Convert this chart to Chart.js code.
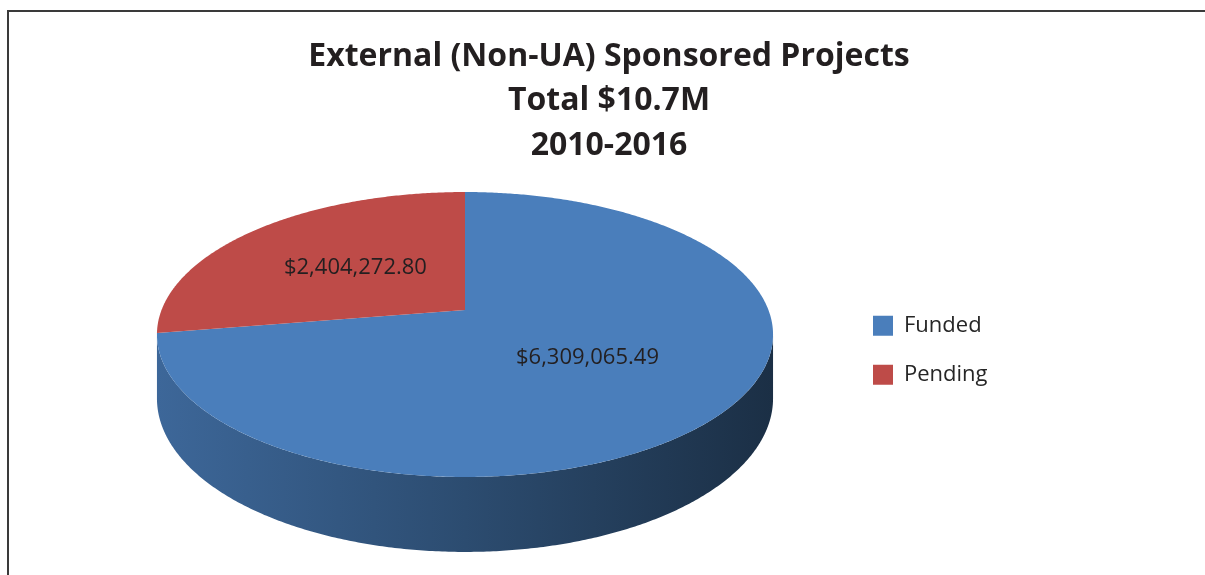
<!DOCTYPE html>
<html>
<head>
<meta charset="utf-8">
<script src="https://cdn.jsdelivr.net/npm/chart.js@4"></script>
<style>
  html, body { margin: 0; padding: 0; background: #fff; }
  body { width: 1205px; height: 575px; position: relative; overflow: hidden; }
  #frame { position: absolute; left: 7px; top: 10px; right: 0; bottom: -10px;
           border-top: 2px solid #3a3a3a; border-left: 2px solid #3a3a3a; }
  #wrap { position: absolute; left: 84px; top: 0; width: 1050px; height: 575px; }
</style>
</head>
<body>
<div id="frame"></div>
<div id="wrap"><canvas id="pieChart"></canvas></div>
<script>
'use strict';

// data
const categories = ['Funded', 'Pending'];
const amounts = [6309065.49, 2404272.80];
const titleLines = ['External (Non-UA) Sponsored Projects', 'Total $10.7M', '2010-2016'];

// look of the 3d pie (relative to the radius chart.js gives us)
const sliceColors = ['#4a7ebb', '#be4b48'];
const RX = 1.736;     // horizontal stretch
const RY = 0.791;     // vertical squash
const PERSP = 0.172;  // how much nearer edge grows
const DEPTH = 0.355;  // height of the side wall
const LIFT = 0.23;    // top face centre above chart area centre
const LABEL_K = 0.5;  // where the value labels sit on the radius
const LEGEND_WIDTH = 288;

const money = v => '$' + v.toLocaleString('en-US', {minimumFractionDigits: 2, maximumFractionDigits: 2});

function shade(hex, k) {
  const n = parseInt(hex.slice(1), 16);
  const c = [(n >> 16) & 255, (n >> 8) & 255, n & 255].map(v => Math.round(v * k));
  return 'rgb(' + c.join(',') + ')';
}

// projects a point of the flat pie (angle, fraction of radius) onto the tilted one
function projector(arc) {
  const r = arc.outerRadius;
  const cx = arc.x, cy = arc.y - r * LIFT;
  return (a, k, drop) => {
    const x = Math.cos(a) * k, z = Math.sin(a) * k;
    const s = 1 / (1 - PERSP * z);
    return [cx + r * RX * x * s, cy + (r * RY * z + drop) * s];
  };
}

const wideLegend = {
  id: 'wideLegend',
  beforeUpdate(chart) {
    const lg = chart.legend;
    if (!lg || lg._wide) return;
    const fit = lg.fit;
    lg.fit = function () { fit.call(this); this.width = LEGEND_WIDTH; };
    lg._wide = true;
  }
};

const pie3d = {
  id: 'pie3d',
  beforeDatasetDraw(chart, args) {
    const ctx = chart.ctx;
    const arcs = args.meta.data;
    const pt = projector(arcs[0]);
    const r = arcs[0].outerRadius;
    const lo = Math.asin(PERSP), hi = Math.PI - lo;
    const step = Math.PI / 360;

    // side walls (front half only)
    const left = pt(Math.PI - lo, 1, 0)[0], right = pt(lo, 1, 0)[0];
    arcs.forEach((arc, i) => {
      const a0 = Math.max(arc.startAngle, lo), a1 = Math.min(arc.endAngle, hi);
      if (a1 <= a0) return;
      const col = arc.options.backgroundColor;
      const g = ctx.createLinearGradient(left, 0, right, 0);
      g.addColorStop(0, shade(col, 0.82));
      g.addColorStop(0.5, shade(col, 0.6));
      g.addColorStop(1, shade(col, 0.37));
      ctx.beginPath();
      for (let a = a0; a < a1; a += step) ctx.lineTo(...pt(a, 1, 0));
      ctx.lineTo(...pt(a1, 1, 0));
      for (let a = a1; a > a0; a -= step) ctx.lineTo(...pt(a, 1, r * DEPTH));
      ctx.lineTo(...pt(a0, 1, r * DEPTH));
      ctx.closePath();
      ctx.fillStyle = g;
      ctx.fill();
    });

    // top faces
    arcs.forEach(arc => {
      ctx.beginPath();
      ctx.moveTo(...pt(0, 0, 0));
      for (let a = arc.startAngle; a < arc.endAngle; a += step) ctx.lineTo(...pt(a, 1, 0));
      ctx.lineTo(...pt(arc.endAngle, 1, 0));
      ctx.closePath();
      ctx.fillStyle = arc.options.backgroundColor;
      ctx.fill();
    });
    return false;
  },
  afterDraw(chart) {
    const ctx = chart.ctx;
    const arcs = chart.getDatasetMeta(0).data;
    const pt = projector(arcs[0]);
    ctx.save();
    ctx.font = '22px "Open Sans"';
    ctx.fillStyle = '#231f20';
    ctx.textAlign = 'center';
    ctx.textBaseline = 'middle';
    arcs.forEach((arc, i) => {
      const mid = (arc.startAngle + arc.endAngle) / 2;
      ctx.fillText(money(amounts[i]), ...pt(mid, LABEL_K, 0));
    });
    ctx.restore();
  }
};

new Chart(document.getElementById('pieChart'), {
  type: 'pie',
  data: {
    labels: categories,
    datasets: [{
      data: amounts,
      backgroundColor: sliceColors,
      borderWidth: 0
    }]
  },
  options: {
    responsive: true,
    maintainAspectRatio: false,
    animation: false,
    layout: { padding: { top: 0, left: 0, right: 0, bottom: 50 } },
    plugins: {
      title: {
        display: true,
        text: titleLines,
        color: '#231f20',
        font: { family: 'Open Sans', size: 32, weight: 'bold', lineHeight: 1.4 },
        padding: { top: 34, bottom: 7 }
      },
      legend: {
        position: 'right',
        fullSize: false,
        labels: {
          color: '#262626',
          font: { family: 'Open Sans', size: 22 },
          boxWidth: 20,
          boxHeight: 20,
          padding: 27
        }
      },
      tooltip: { enabled: false }
    }
  },
  plugins: [wideLegend, pie3d]
});
</script>
</body>
</html>
